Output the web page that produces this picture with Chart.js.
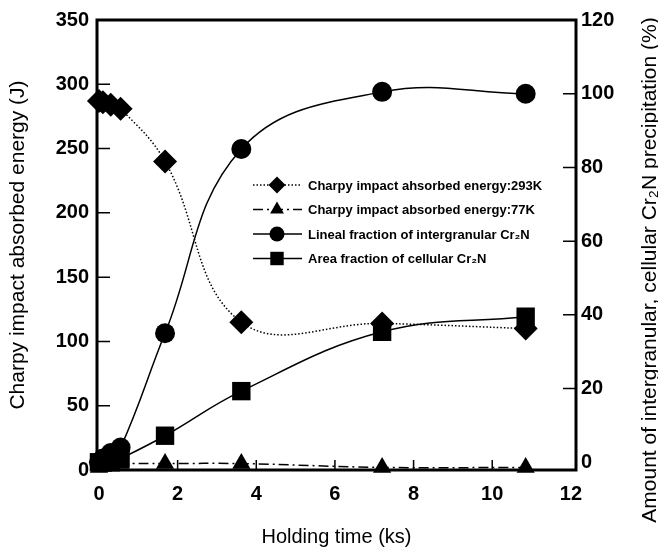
<!DOCTYPE html>
<html><head><meta charset="utf-8">
<script src="https://cdn.jsdelivr.net/npm/chart.js@4"></script>
<style>html,body{margin:0;padding:0;background:#fff}#wrap{width:658px;height:551px}</style>
</head><body><div id="wrap"><canvas id="c" width="658" height="551"></canvas></div>
<script>
// ---- data ----
const holdingTime    = [0, 0.1, 0.3, 0.55, 1.68, 3.62, 7.2, 10.85];   // ks
const energy293K     = [287, 286, 284, 281, 240, 115, 114, 110];      // J
const energy77K      = [2, 3, 4, 5, 5, 5, 2, 2];                      // J
const linealFraction = [0, 1, 2.5, 4, 35, 85, 100.5, 100];            // %
const areaFraction   = [0, 0, 0, 1, 7.2, 19.3, 35.4, 39.5];           // %
const xTicks     = [0, 2, 4, 6, 8, 10, 12];
const leftTicks  = [0, 50, 100, 150, 200, 250, 300, 350];
const rightTicks = [0, 20, 40, 60, 80, 100, 120];
const seriesLabels = [
  'Charpy impact ahsorbed energy:293K',
  'Charpy impact absorbed energy:77K',
  'Lineal fraction of intergranular Cr\u2082N',
  'Area fraction of cellular Cr\u2082N'
];
const xTitle = 'Holding time (ks)';
const leftTitle = 'Charpy impact absorbed energy (J)';
const rightTitle = 'Amount of intergranular, cellular Cr\u2082N precipitation (%)';

const pts = arr => holdingTime.map((x, i) => ({x: x, y: arr[i]}));
const FONT = '"Liberation Sans", Arial, sans-serif';

function marker(ctx, style, x, y, r) {
  ctx.beginPath();
  if (style === 'circle') { ctx.arc(x, y, r, 0, Math.PI * 2); }
  else if (style === 'rect') { const s = r * Math.SQRT1_2; ctx.rect(x - s, y - s, 2 * s, 2 * s); }
  else if (style === 'rectRot') { ctx.moveTo(x, y - r); ctx.lineTo(x + r, y); ctx.lineTo(x, y + r); ctx.lineTo(x - r, y); ctx.closePath(); }
  else if (style === 'triangle') { ctx.moveTo(x, y - r); ctx.lineTo(x + r * 0.866, y + r / 2); ctx.lineTo(x - r * 0.866, y + r / 2); ctx.closePath(); }
  ctx.fill();
}

const framePlugin = {
  id: 'frame',
  beforeDatasetsDraw(chart) {
    const {ctx, chartArea: a, scales} = chart;
    ctx.save();
    ctx.strokeStyle = '#000';
    // inward tick marks
    ctx.lineWidth = 1.5;
    ctx.beginPath();
    xTicks.slice(1, -1).forEach(v => { const p = scales.x.getPixelForValue(v); ctx.moveTo(p, a.bottom); ctx.lineTo(p, a.bottom - 10); });
    leftTicks.slice(1, -1).forEach(v => { const p = scales.y.getPixelForValue(v); ctx.moveTo(a.left, p); ctx.lineTo(a.left + 13, p); });
    rightTicks.slice(1, -1).forEach(v => { const p = scales.y1.getPixelForValue(v); ctx.moveTo(a.right, p); ctx.lineTo(a.right - 13, p); });
    ctx.stroke();
    ctx.lineWidth = 3;
    ctx.strokeRect(a.left, a.top, a.right - a.left, a.bottom - a.top);
    ctx.restore();
  },
  afterDraw(chart) {
    const ctx = chart.ctx;
    ctx.save();
    // right axis title (reads bottom to top)
    ctx.translate(650, 270);
    ctx.rotate(-Math.PI / 2);
    ctx.font = '21px ' + FONT;
    ctx.fillStyle = '#000';
    ctx.textAlign = 'center';
    ctx.textBaseline = 'middle';
    ctx.fillText(rightTitle, 0, 0);
    ctx.restore();
    // legend inside plot
    ctx.save();
    chart.data.datasets.forEach((ds, i) => {
      const y = 185 + i * 24.5;
      ctx.strokeStyle = '#000';
      ctx.fillStyle = '#000';
      ctx.lineWidth = ds.borderWidth;
      ctx.setLineDash(ds.borderDash || []);
      ctx.beginPath(); ctx.moveTo(253, y); ctx.lineTo(302, y); ctx.stroke();
      ctx.setLineDash([]);
      marker(ctx, ds.pointStyle, 277, y, ds.legendRadius);
      ctx.font = 'bold 13px ' + FONT;
      ctx.textAlign = 'left';
      ctx.textBaseline = 'middle';
      ctx.fillText(ds.label, 308, y + 1);
    });
    ctx.restore();
  }
};

const common = {borderColor: '#000', backgroundColor: '#000', pointBackgroundColor: '#000', pointBorderWidth: 0, fill: false, clip: false, tension: 0.4};

new Chart(document.getElementById('c'), {
  type: 'line',
  data: {
    datasets: [
      Object.assign({}, common, {label: seriesLabels[0], data: pts(energy293K), yAxisID: 'y', pointStyle: 'rectRot', pointRadius: 12, borderWidth: 1.5, borderDash: [1.5, 2], legendRadius: 8.5}),
      Object.assign({}, common, {label: seriesLabels[1], data: pts(energy77K), yAxisID: 'y', pointStyle: 'triangle', pointRadius: 10.5, borderWidth: 1.5, borderDash: [10, 4, 2, 4], legendRadius: 8}),
      Object.assign({}, common, {label: seriesLabels[2], data: pts(linealFraction), yAxisID: 'y1', pointStyle: 'circle', pointRadius: 10, borderWidth: 1.5, legendRadius: 7.5}),
      Object.assign({}, common, {label: seriesLabels[3], data: pts(areaFraction), yAxisID: 'y1', pointStyle: 'rect', pointRadius: 13, borderWidth: 1.5, legendRadius: 9.5})
    ]
  },
  options: {
    responsive: false,
    animation: false,
    devicePixelRatio: 1,
    layout: {padding: {top: 14, left: 0, right: 0, bottom: 0}},
    plugins: {legend: {display: false}, tooltip: {enabled: false}},
    scales: {
      x: {
        type: 'linear', min: -0.05, max: 12.13,
        afterBuildTicks: s => { s.ticks = xTicks.map(v => ({value: v})); },
        afterFit: s => { s.height = 81; },
        grid: {display: false, drawTicks: false},
        border: {display: false},
        ticks: {color: '#000', font: {family: FONT, size: 20, weight: 'bold'}, padding: 12, maxRotation: 0},
        title: {display: true, text: xTitle, color: '#000', font: {family: FONT, size: 20}, padding: {top: 0, bottom: 2}}
      },
      y: {
        type: 'linear', position: 'left', min: 0, max: 350,
        afterBuildTicks: s => { s.ticks = leftTicks.map(v => ({value: v})); },
        afterFit: s => { s.width = 97; },
        grid: {display: false, drawTicks: false},
        border: {display: false},
        ticks: {color: '#000', font: {family: FONT, size: 20, weight: 'bold'}, padding: 8},
        title: {display: true, text: leftTitle, color: '#000', font: {family: FONT, size: 21}, padding: {top: 6, bottom: 0}}
      },
      y1: {
        type: 'linear', position: 'right', min: -2.1, max: 120,
        afterBuildTicks: s => { s.ticks = rightTicks.map(v => ({value: v})); },
        afterFit: s => { s.width = 82; },
        grid: {display: false, drawTicks: false},
        border: {display: false},
        ticks: {color: '#000', font: {family: FONT, size: 20, weight: 'bold'}, padding: 5}
      }
    }
  },
  plugins: [framePlugin]
});
</script>
</body></html>
